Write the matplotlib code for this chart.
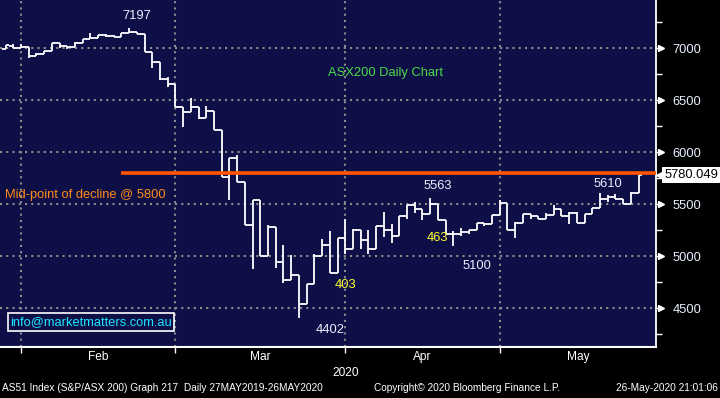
import numpy as np
import pandas as pd
import matplotlib
matplotlib.use("Agg")
import matplotlib.pyplot as plt

# ASX200 daily bars, 29 Jan - 26 May 2020
holidays = ["2020-04-10", "2020-04-13"]
dates = pd.bdate_range("2020-01-29", "2020-05-26")
dates = dates[~dates.isin(pd.to_datetime(holidays))]

opens = [6990, 7025, 7000, 7010, 6926, 6942, 6974, 7048, 7022, 7010,
         7048, 7090, 7096, 7128, 7122, 7106, 7144, 7154, 7138, 6968,
         6865, 6700, 6654, 6439, 6391, 6433, 6327, 6397, 6215, 5760,
         5942, 5718, 5298, 5538, 5000, 5282, 4946, 4776, 4817, 4545,
         4737, 5000, 5112, 4843, 5180, 5074, 5256, 5154, 5067, 5288,
         5250, 5199, 5385, 5490, 5458, 5410, 5500, 5353, 5218, 5218,
         5234, 5250, 5320, 5308, 5394, 5516, 5250, 5320, 5404, 5385,
         5362, 5394, 5458, 5388, 5420, 5324, 5410, 5468, 5554, 5570,
         5548, 5500, 5612]
highs = [7032, 7040, 7045, 7010, 6958, 6974, 7048, 7048, 7022, 7064,
         7090, 7144, 7128, 7138, 7128, 7144, 7197, 7154, 7138, 6968,
         6865, 6721, 6654, 6439, 6519, 6433, 6446, 6397, 6215, 5942,
         5974, 5718, 5538, 5538, 5305, 5282, 5106, 5016, 4817, 4737,
         5026, 5170, 5240, 5180, 5362, 5266, 5256, 5250, 5288, 5426,
         5314, 5385, 5490, 5522, 5458, 5563, 5500, 5353, 5240, 5276,
         5250, 5320, 5320, 5394, 5545, 5516, 5330, 5404, 5404, 5385,
         5420, 5497, 5458, 5426, 5426, 5410, 5468, 5610, 5586, 5602,
         5548, 5619, 5780]
lows = [6990, 7000, 7000, 6904, 6926, 6942, 6974, 7006, 6990, 7010,
        7048, 7090, 7096, 7106, 7106, 7106, 7144, 7135, 6968, 6808,
        6696, 6631, 6433, 6247, 6391, 6317, 6327, 6215, 5760, 5542,
        5718, 5298, 4881, 5000, 5000, 4891, 4744, 4776, 4402, 4545,
        4737, 5000, 4843, 4843, 5026, 5074, 5067, 5026, 5067, 5186,
        5128, 5199, 5362, 5417, 5346, 5410, 5353, 5218, 5100, 5192,
        5218, 5250, 5288, 5308, 5394, 5250, 5180, 5320, 5362, 5356,
        5362, 5394, 5388, 5308, 5324, 5324, 5410, 5468, 5522, 5548,
        5500, 5500, 5612]
closes = [7032, 7000, 7010, 6926, 6942, 6974, 7048, 7022, 7010, 7048,
          7090, 7096, 7128, 7122, 7106, 7144, 7154, 7138, 6968, 6865,
          6700, 6654, 6439, 6391, 6433, 6327, 6397, 6215, 5760, 5942,
          5718, 5298, 5538, 5000, 5282, 4946, 4776, 4817, 4545, 4737,
          5000, 5112, 4843, 5180, 5074, 5256, 5154, 5067, 5288, 5250,
          5199, 5385, 5490, 5458, 5410, 5500, 5353, 5218, 5218, 5234,
          5250, 5320, 5308, 5394, 5516, 5250, 5320, 5404, 5385, 5362,
          5394, 5458, 5388, 5420, 5324, 5410, 5468, 5554, 5570, 5548,
          5500, 5612, 5780.049]

months = ["Feb", "Mar", "Apr", "May"]
month_nums = [2, 3, 4, 5]
yticks = [4500, 5000, 5500, 6000, 6500, 7000]
peak, trough = 7197, 4402
line_start = "2020-02-19"

# labels written on the chart: (text, date, value, colour)
notes = [
    ("7197", "2020-02-21", 7310, "#e8f0ff"),
    ("5563", "2020-04-20", 5676, "#e8f0ff"),
    ("463", "2020-04-20", 5176, "#ffff33"),
    ("403", "2020-03-31", 4724, "#ffff33"),
    ("4402", "2020-03-27", 4291, "#e8f0ff"),
    ("5100", "2020-04-27", 4907, "#e8f0ff"),
    ("5610", "2020-05-20", 5695, "#e8f0ff"),
]

plt.rcParams["font.family"] = ["Liberation Sans", "DejaVu Sans"]
navy = "#0f0f47"
x = np.arange(len(dates))
pos = {d.strftime("%Y-%m-%d"): i for i, d in enumerate(dates)}

fig = plt.figure(figsize=(7.2, 3.98), dpi=100, facecolor="black")
ax = fig.add_axes([0, 1 - 347 / 398, 656 / 720, 347 / 398], facecolor=navy)

# month boundaries sit on the last bar of the previous month
bounds = [np.where(dates.month == m)[0][0] - 1 for m in month_nums]
for b in bounds:
    ax.axvline(b, color="#8c8c8c", lw=1.5, ls=(0, (1, 2)), zorder=1)
for v in yticks:
    ax.axhline(v, color="#8c8c8c", lw=1.5, ls=(0, (1, 2)), zorder=1)

# OHLC bars
ax.vlines(x, lows, highs, color="white", lw=1.3, zorder=3)
ax.hlines(opens, x - 0.5, x, color="white", lw=1.3, zorder=3)
ax.hlines(closes, x, x + 0.5, color="white", lw=1.3, zorder=3)

# mid-point of the decline
mid = (peak + trough) / 2
ax.hlines(mid, pos[line_start], len(x) + 5, color="#ff5500", lw=2.6, zorder=4)

ax.set_xlim(-0.72, 84.25)
ax.set_ylim(4128, 7464)

for s in ["top", "left"]:
    ax.spines[s].set_visible(False)
ax.spines["right"].set_color("white")
ax.spines["right"].set_linewidth(1.3)
ax.spines["bottom"].set_color("white")
ax.spines["bottom"].set_linewidth(1.5)

ax.yaxis.tick_right()
ax.set_yticks(yticks)
ax.set_yticks(np.arange(4250, 7500, 500), minor=True)
ax.tick_params(axis="y", which="major", colors="white", length=4, width=1,
               pad=8, labelsize=9.3, labelcolor="#e8f0ff")
ax.tick_params(axis="y", which="minor", colors="white", length=4, width=1)
ytr = ax.get_yaxis_transform()
ax.plot([1 + 5 / 656] * len(yticks), yticks, ls="none", marker=">", ms=5,
        color="white", transform=ytr, clip_on=False)

centers = [(bounds[i] + bounds[i + 1]) / 2 for i in range(len(bounds) - 1)]
centers.append((bounds[-1] + ax.get_xlim()[1]) / 2)
ax.set_xticks(bounds)
ax.set_xticklabels([])
ax.set_xticks(centers, minor=True)
ax.set_xticklabels(months, minor=True, fontsize=8.6, color="white")
ax.tick_params(axis="x", which="major", colors="white", length=4, width=1)
ax.tick_params(axis="x", which="minor", length=0, pad=3)

xtr = ax.get_xaxis_transform()
ax.text(bounds[2], -0.075, "2020", transform=xtr, ha="center", va="center",
        color="white", fontsize=8.6)

# chart notes
ax.text(49.2, 6763, "ASX200 Daily Chart", color="#4cd94c", fontsize=9.3,
        ha="center", va="center")
ax.text(-0.1, 5590, f"Mid-point of decline @ {mid:.0f}",
        color="#ff8c1a", fontsize=9.3, ha="left", va="center")
for txt, d, v, c in notes:
    ax.text(pos[d], v, txt, color=c, fontsize=9.3, ha="center", va="center")
ax.text(11.07, 4369, "info@marketmatters.com.au", color="#19e6ff", fontsize=9.3,
        ha="center", va="center",
        bbox=dict(boxstyle="square,pad=0.2", fc=navy, ec="white", lw=1.2))

# last price tag
ax.plot([1 + 5 / 656], [closes[-1]], marker="<", ms=7, color="white",
        transform=ytr, clip_on=False)
ax.annotate(f"{closes[-1]:.3f}", xy=(1, closes[-1]), xycoords=ytr,
            xytext=(6, 0), textcoords="offset points", ha="left", va="center",
            fontsize=9.3, color="black", annotation_clip=False,
            bbox=dict(boxstyle="square,pad=0.15", fc="white", ec="none"))

fig.text(2 / 720, 1 - 388 / 398,
         "AS51 Index (S&P/ASX 200) Graph 217  Daily 27MAY2019-26MAY2020",
         color="white", fontsize=7.3, va="center")
fig.text(374 / 720, 1 - 388 / 398, "Copyright\u00a9 2020 Bloomberg Finance L.P.",
         color="white", fontsize=7.3, va="center")
fig.text(718 / 720, 1 - 388 / 398, "26-May-2020 21:01:06",
         color="white", fontsize=7.3, va="center", ha="right")

fig.savefig("out.png", dpi=100, facecolor="black")
